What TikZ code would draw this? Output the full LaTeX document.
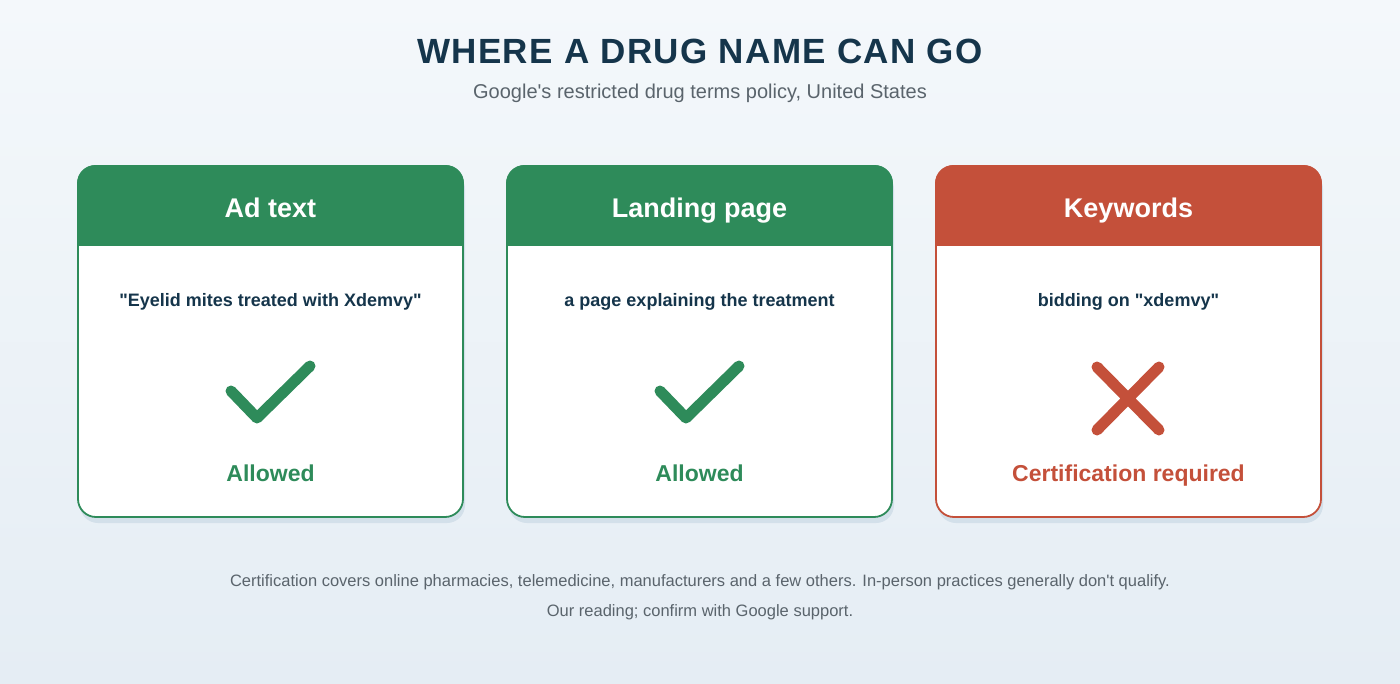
\documentclass[tikz,border=0pt]{standalone}
\usepackage{fontspec}
\setmainfont[Ligatures=TeXReset]{Liberation Sans}
\newfontfamily\titlefont[LetterSpace=4]{Liberation Sans}
\definecolor{navy}{HTML}{15354B}
\definecolor{grn}{HTML}{2E8B5A}
\definecolor{red}{HTML}{C4503A}
\definecolor{gry}{HTML}{5A646C}
\definecolor{bgt}{HTML}{F4F8FB}
\definecolor{bgb}{HTML}{E5EDF4}
\definecolor{shd}{HTML}{D3E0EA}
\begin{document}
\begin{tikzpicture}[x=1pt,y=-1pt,
  card/.style={draw=#1,line width=1.8pt,fill=white,rounded corners=18pt},
  head/.style={fill=#1,rounded corners=18pt},
  htext/.style={anchor=base,text=white,font=\fontsize{27}{32}\selectfont\bfseries},
  qtext/.style={anchor=base,text=navy,font=\fontsize{18}{22}\selectfont\bfseries},
  stext/.style={anchor=base,text=#1,font=\fontsize{23}{27}\selectfont\bfseries},
  mark/.style={draw=#1,line width=11pt,line cap=round,line join=round},
  foot/.style={anchor=base,text=gry,font=\fontsize{16.5}{20}\selectfont}]
\useasboundingbox (0,0) rectangle (1400,683);
\shade[top color=bgt,bottom color=bgb] (0,0) rectangle (1400,683);
\node[anchor=base,text=navy,font=\titlefont\fontsize{35}{42}\selectfont\bfseries] (title) at (700,63) {WHERE A DRUG NAME CAN GO};
\node[anchor=base,text=gry,font=\fontsize{20}{24}\selectfont] (sub) at (700,98) {Google's restricted drug terms policy, United States};
\foreach \x/\c/\h/\q/\s/\n in {78/grn/Ad text/"Eyelid mites treated with Xdemvy"/Allowed/a,
  507/grn/Landing page/a page explaining the treatment/Allowed/b,
  936/red/Keywords/bidding on "xdemvy"/Certification required/c}{
  \fill[shd,rounded corners=18pt] (\x+2,171) rectangle (\x+387,523);
  \draw[card=\c] (\x,166) rectangle (\x+385,517);
  \begin{scope}
    \clip (\x-2,164) rectangle (\x+387,245);
    \fill[head=\c] (\x-0.9,165.1) rectangle (\x+385.9,290);
  \end{scope}
  \node[htext] (h\n) at (\x+192.5,217) {\h};
  \node[qtext] (q\n) at (\x+192.5,306) {\q};
  \node[stext=\c] (s\n) at (\x+192.5,481) {\s};
}
\draw[mark=grn] (231,391) -- (257,418) -- (310,366);
\draw[mark=grn] (660,391) -- (686,418) -- (739,366);
\draw[mark=red] (1097,367) -- (1159,430) (1159,367) -- (1097,430);
\node[foot] (f1) at (700,586) {Certification covers online pharmacies, telemedicine, manufacturers and a few others. In-person practices generally don't qualify.};
\node[foot] (f2) at (700,616) {Our reading; confirm with Google support.};
\end{tikzpicture}
\end{document}
